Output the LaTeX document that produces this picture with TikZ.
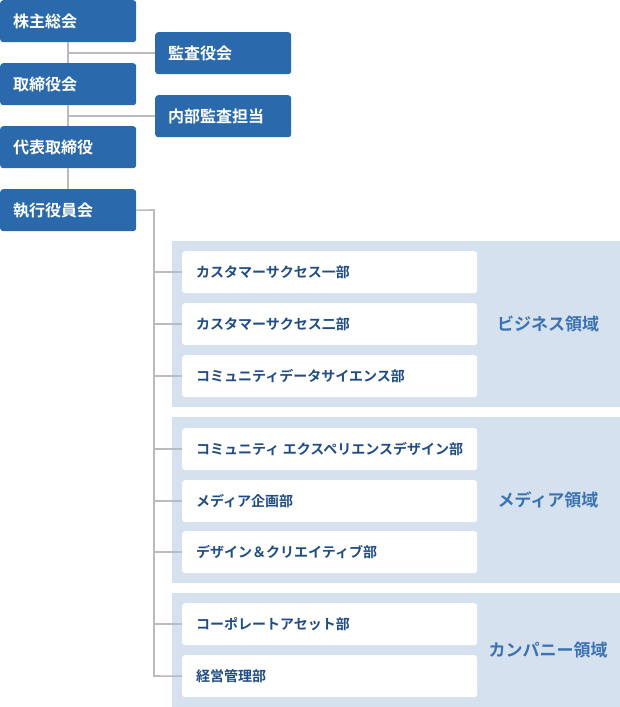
\documentclass[tikz,border=0pt]{standalone}
\usepackage{fontspec}
\setmainfont{Noto Sans CJK JP}[BoldFont={* Bold}]
\newfontfamily\jpb{Noto Sans CJK JP Bold}
\definecolor{orgblue}{HTML}{2A69AC}
\definecolor{bandblue}{HTML}{D5E1EE}
\definecolor{linegray}{HTML}{B8BCC0}
\definecolor{deptblue}{HTML}{1F4C85}
\definecolor{areablue}{HTML}{3A72B4}
\begin{document}
\begin{tikzpicture}[x=1pt,y=-1pt,
  topbox/.style={anchor=north west,fill=orgblue,rounded corners=3pt,text=white,
    font=\jpb\fontsize{16}{19}\selectfont,inner xsep=13pt,inner ysep=0pt,
    text width=110pt,align=left,minimum height=42pt},
  deptbox/.style={anchor=north west,fill=white,rounded corners=3pt,text=deptblue,
    font=\jpb\fontsize{14}{17}\selectfont,inner xsep=14pt,inner ysep=0pt,
    text width=267pt,align=left,minimum height=42pt},
  band/.style={anchor=north west,fill=bandblue,inner sep=0pt,minimum width=448pt},
  area/.style={text=areablue,font=\jpb\fontsize{17}{20}\selectfont,anchor=center},
  conn/.style={draw=linegray,line width=1.6pt}]
\useasboundingbox (0,0) rectangle (620,707);
% bands
\node[band,minimum height=166pt] (b1) at (172,241) {};
\node[band,minimum height=166pt] (b2) at (172,417) {};
\node[band,minimum height=114pt] (b3) at (172,593) {};
% top boxes
\node[topbox] (t1) at (0,0) {株主総会};
\node[topbox] (a1) at (155,32) {監査役会};
\node[topbox] (t2) at (0,63) {取締役会};
\node[topbox] (a2) at (155,95) {内部監査担当};
\node[topbox] (t3) at (0,126) {代表取締役};
\node[topbox] (t4) at (0,189) {執行役員会};
% departments
\node[deptbox] (d1) at (182,251) {カスタマーサクセス一部};
\node[deptbox] (d2) at (182,303) {カスタマーサクセス二部};
\node[deptbox] (d3) at (182,355) {コミュニティデータサイエンス部};
\node[deptbox] (d4) at (182,428) {\mbox{コミュニティ\hspace{0.25em}エクスペリエンスデザイン部}};
\node[deptbox] (d5) at (182,480) {メディア企画部};
\node[deptbox] (d6) at (182,531) {デザイン＆クリエイティブ部};
\node[deptbox] (d7) at (182,603) {コーポレートアセット部};
\node[deptbox] (d8) at (182,655) {経営管理部};
% area labels
\node[area] (l1) at (548,324) {ビジネス領域};
\node[area] (l2) at (548,500) {メディア領域};
\node[area] (l3) at (548,650) {カンパニー領域};
% connectors
\draw[conn] (t1.south) -- (t2.north);
\draw[conn] (t2.south) -- (t3.north);
\draw[conn] (t3.south) -- (t4.north);
\draw[conn] (t1.south |- a1.west) -- (a1.west);
\draw[conn] (t2.south |- a2.west) -- (a2.west);
\coordinate (trunk) at (154,210);
\coordinate (trunkend) at (154,676);
\draw[conn] (t4.east) -- (trunk) -- (trunkend) -- (d8.west);
\foreach \d in {d1,d2,d3,d4,d5,d6,d7}{
  \draw[conn] (trunk |- \d.west) -- (\d.west);
}
\end{tikzpicture}
\end{document}
